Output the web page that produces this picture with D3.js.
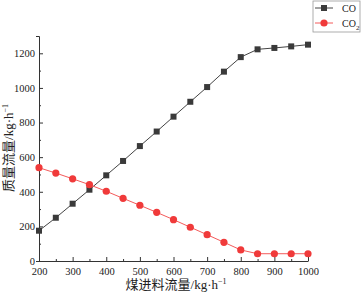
<!DOCTYPE html>
<html>
<head>
<meta charset="utf-8">
<script src="https://cdn.jsdelivr.net/npm/d3@7"></script>
<style>
body { margin:0; background:#fff; }
svg text { font-family: "Times New Roman", "Liberation Serif", "Noto Sans CJK SC", serif !important; }
</style>
</head>
<body>
<div id="chart-area"></div>
<script>
var feed = [200, 250, 300, 350, 400, 450, 500, 550, 600, 650, 700, 750, 800, 850, 900, 950, 1000];
var coFlow = [175, 250, 331, 412, 495, 578, 664, 748, 834, 920, 1005, 1094, 1178, 1223, 1231, 1240, 1250];
var co2Flow = [539, 508, 475, 441, 403, 362, 322, 281, 239, 195, 152, 108, 64, 42, 42, 42, 42];
var xTicks = [200, 300, 400, 500, 600, 700, 800, 900, 1000];
var yTicks = [0, 200, 400, 600, 800, 1000, 1200];

var margin = { left:39, right:53, top:36, bottom:33 };
var width = 361 - margin.left - margin.right,
    height = 294 - margin.top - margin.bottom;

var svg = d3.select("#chart-area").append("svg")
    .attr("width", 361)
    .attr("height", 294);

var g = svg.append("g")
    .attr("transform", "translate(" + margin.left + "," + margin.top + ")");

var x = d3.scaleLinear().domain([200, 1000]).range([0, width]);
var y = d3.scaleLinear().domain([0, 1300]).range([height, 0]);

// minor ticks first
g.append("g")
    .attr("transform", "translate(0," + height + ")")
    .call(d3.axisBottom(x).tickValues(d3.range(250, 1000, 100)).tickSize(-2).tickSizeOuter(0).tickFormat(""))
    .call(function(a){ a.select(".domain").remove(); });
g.append("g")
    .call(d3.axisLeft(y).tickValues(d3.range(100, 1300, 200)).tickSize(-2).tickSizeOuter(0).tickFormat(""))
    .call(function(a){ a.select(".domain").remove(); });

var xAxis = g.append("g")
    .attr("transform", "translate(0," + height + ")")
    .call(d3.axisBottom(x).tickValues(xTicks).tickFormat(d3.format("d"))
        .tickSizeInner(-4).tickSizeOuter(0).tickPadding(5));
var yAxis = g.append("g")
    .call(d3.axisLeft(y).tickValues(yTicks).tickFormat(d3.format("d"))
        .tickSizeInner(-4).tickSizeOuter(3).tickPadding(4));

g.selectAll(".tick text")
    .attr("font-size", "10.5px")
    .attr("fill", "#222");
g.selectAll(".domain, .tick line").attr("stroke", "#333");
xAxis.selectAll(".tick text").attr("dy", "0.85em");

var line = d3.line()
    .x(function(d, i){ return x(feed[i]); })
    .y(function(d){ return y(d); });

g.append("path")
    .attr("d", line(coFlow))
    .attr("fill", "none")
    .attr("stroke", "#444")
    .attr("stroke-width", 1);
g.append("path")
    .attr("d", line(co2Flow))
    .attr("fill", "none")
    .attr("stroke", "#f45a5a")
    .attr("stroke-width", 1);

g.selectAll(".co")
    .data(coFlow)
    .enter().append("rect")
    .attr("class", "co")
    .attr("x", function(d, i){ return x(feed[i]) - 3; })
    .attr("y", function(d){ return y(d) - 3; })
    .attr("width", 6)
    .attr("height", 6)
    .attr("fill", "#3a3a3a");

g.selectAll(".co2")
    .data(co2Flow)
    .enter().append("circle")
    .attr("class", "co2")
    .attr("cx", function(d, i){ return x(feed[i]); })
    .attr("cy", function(d){ return y(d); })
    .attr("r", 3.6)
    .attr("fill", "#f03a3a");

// axis titles
svg.append("text")
    .attr("x", 176)
    .attr("y", 289)
    .attr("text-anchor", "middle")
    .attr("font-size", "13px")
    .attr("fill", "#222")
    .html("煤进料流量/kg·h<tspan dy='-5' font-size='8px'>−1</tspan>");

svg.append("text")
    .attr("transform", "translate(13,148) rotate(-90)")
    .attr("text-anchor", "middle")
    .attr("font-size", "13px")
    .attr("fill", "#222")
    .html("质量流量/kg·h<tspan dy='-5' font-size='8px'>−1</tspan>");

// legend
var legend = svg.append("g").attr("transform", "translate(313,1)");
legend.append("rect")
    .attr("width", 47).attr("height", 31)
    .attr("fill", "#fff").attr("stroke", "#999").attr("stroke-width", 0.8);

var rowCo = legend.append("g").attr("transform", "translate(0,7)");
rowCo.append("line").attr("x1", 2).attr("x2", 20).attr("stroke", "#444");
rowCo.append("rect").attr("x", 8).attr("y", -3).attr("width", 6).attr("height", 6).attr("fill", "#3a3a3a");
rowCo.append("text").attr("x", 29).attr("y", 4).attr("font-size", "10px").attr("fill", "#222").text("CO");

var rowCo2 = legend.append("g").attr("transform", "translate(0,22)");
rowCo2.append("line").attr("x1", 2).attr("x2", 20).attr("stroke", "#f45a5a");
rowCo2.append("circle").attr("cx", 11).attr("cy", 0).attr("r", 3.6).attr("fill", "#f03a3a");
rowCo2.append("text").attr("x", 29).attr("y", 4).attr("font-size", "10px").attr("fill", "#222")
    .html("CO<tspan dy='3' font-size='7px'>2</tspan>");
</script>
</body>
</html>
